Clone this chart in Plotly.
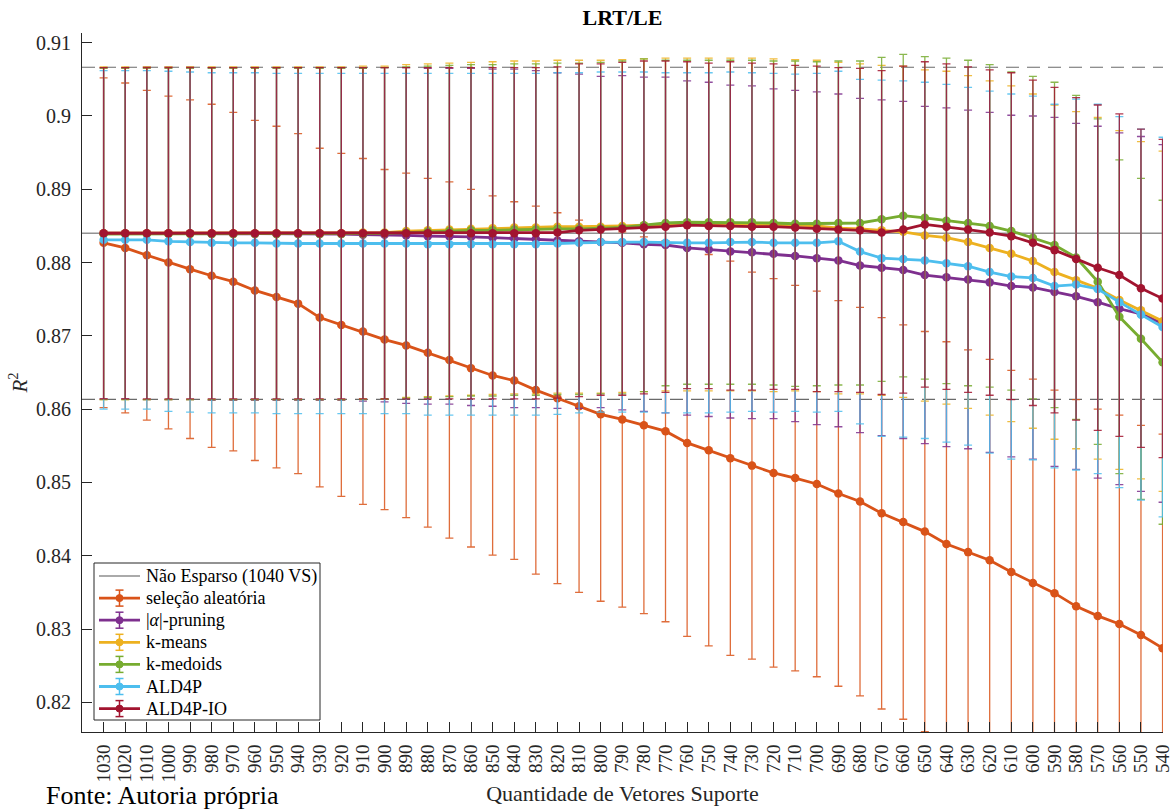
import plotly.graph_objects as go

# ---------------- data ----------------
vs = list(range(1030, 530, -10))  # Quantidade de Vetores Suporte

nonsparse_mean = 0.8840
nonsparse_std = 0.02265
nonsparse_name = "Não Esparso (1040 VS)"

random_mean = [0.8827, 0.8820, 0.8810, 0.8800, 0.8791, 0.8782, 0.8774, 0.8762, 0.8753, 0.8744,
               0.8725, 0.8715, 0.8706, 0.8695, 0.8687, 0.8677, 0.8667, 0.8656, 0.8646, 0.8639,
               0.8626, 0.8615, 0.8604, 0.8593, 0.8586, 0.8578, 0.8570, 0.8554, 0.8544, 0.8533,
               0.8523, 0.8513, 0.8506, 0.8498, 0.8485, 0.8474, 0.8458, 0.8446, 0.8433, 0.8416,
               0.8405, 0.8394, 0.8378, 0.8363, 0.8349, 0.8331, 0.8318, 0.8307, 0.8292, 0.8274]
random_std = [0.0225, 0.0225, 0.0225, 0.0227, 0.0231, 0.0234, 0.0231, 0.0232, 0.0233, 0.0232,
              0.0231, 0.0234, 0.0236, 0.0232, 0.0235, 0.0238, 0.0243, 0.0244, 0.0245, 0.0244,
              0.0251, 0.0253, 0.0254, 0.0255, 0.0256, 0.0257, 0.0260, 0.0264, 0.0267, 0.0269,
              0.0264, 0.0265, 0.0263, 0.0263, 0.0263, 0.0265, 0.0267, 0.0269, 0.0273, 0.0276,
              0.0276, 0.0274, 0.0275, 0.0278, 0.0277, 0.0282, 0.0282, 0.0285, 0.0286, 0.0292]

pruning_mean = [0.8840, 0.8840, 0.8840, 0.8840, 0.8840, 0.8839, 0.8839, 0.8839, 0.8839, 0.8839,
                0.8839, 0.8839, 0.8838, 0.8838, 0.8837, 0.8836, 0.8836, 0.8835, 0.8834, 0.8833,
                0.8832, 0.8830, 0.8829, 0.8828, 0.8827, 0.8825, 0.8824, 0.8820, 0.8818, 0.8815,
                0.8814, 0.8812, 0.8809, 0.8806, 0.8803, 0.8796, 0.8793, 0.8790, 0.8783, 0.8780,
                0.8777, 0.8773, 0.8768, 0.8766, 0.8760, 0.8754, 0.8746, 0.8737, 0.8730, 0.8717]
pruning_std = [0.0226, 0.0226, 0.0227, 0.0227, 0.0227, 0.0227, 0.0227, 0.0227, 0.0227, 0.0227,
               0.0227, 0.0227, 0.0227, 0.0228, 0.0229, 0.0229, 0.0229, 0.0230, 0.0230, 0.0231,
               0.0230, 0.0229, 0.0228, 0.0226, 0.0228, 0.0228, 0.0229, 0.0228, 0.0228, 0.0227,
               0.0227, 0.0225, 0.0226, 0.0227, 0.0227, 0.0228, 0.0229, 0.0230, 0.0230, 0.0231,
               0.0231, 0.0232, 0.0233, 0.0234, 0.0238, 0.0236, 0.0240, 0.0240, 0.0242, 0.0244]

kmeans_mean = [0.8840, 0.8840, 0.8840, 0.8840, 0.8840, 0.8840, 0.8840, 0.8840, 0.8840, 0.8840,
               0.8840, 0.8840, 0.8841, 0.8841, 0.8843, 0.8844, 0.8845, 0.8846, 0.8847, 0.8848,
               0.8848, 0.8849, 0.8849, 0.8849, 0.8850, 0.8851, 0.8852, 0.8852, 0.8852, 0.8852,
               0.8852, 0.8851, 0.8851, 0.8850, 0.8847, 0.8846, 0.8844, 0.8842, 0.8837, 0.8834,
               0.8828, 0.8820, 0.8812, 0.8802, 0.8787, 0.8776, 0.8765, 0.8749, 0.8735, 0.8720]
kmeans_std = [0.0227, 0.0227, 0.0227, 0.0227, 0.0227, 0.0227, 0.0227, 0.0227, 0.0227, 0.0227,
              0.0227, 0.0227, 0.0227, 0.0227, 0.0227, 0.0227, 0.0227, 0.0227, 0.0227, 0.0227,
              0.0227, 0.0227, 0.0227, 0.0227, 0.0227, 0.0227, 0.0227, 0.0227, 0.0227, 0.0227,
              0.0227, 0.0227, 0.0226, 0.0226, 0.0226, 0.0225, 0.0225, 0.0226, 0.0226, 0.0227,
              0.0227, 0.0228, 0.0229, 0.0228, 0.0228, 0.0230, 0.0233, 0.0231, 0.0230, 0.0232]

kmedoids_mean = [0.8839, 0.8839, 0.8839, 0.8839, 0.8839, 0.8839, 0.8839, 0.8839, 0.8839, 0.8839,
                 0.8839, 0.8839, 0.8839, 0.8840, 0.8841, 0.8842, 0.8843, 0.8844, 0.8844, 0.8845,
                 0.8845, 0.8846, 0.8846, 0.8847, 0.8848, 0.8851, 0.8854, 0.8855, 0.8855, 0.8855,
                 0.8855, 0.8854, 0.8853, 0.8853, 0.8854, 0.8854, 0.8859, 0.8864, 0.8861, 0.8857,
                 0.8854, 0.8850, 0.8843, 0.8834, 0.8824, 0.8807, 0.8774, 0.8726, 0.8696, 0.8664]
kmedoids_std = [0.0226, 0.0226, 0.0226, 0.0226, 0.0226, 0.0226, 0.0226, 0.0226, 0.0226, 0.0226,
                0.0226, 0.0226, 0.0226, 0.0226, 0.0226, 0.0226, 0.0226, 0.0226, 0.0226, 0.0226,
                0.0226, 0.0226, 0.0226, 0.0226, 0.0227, 0.0227, 0.0222, 0.0221, 0.0221, 0.0221,
                0.0221, 0.0221, 0.0222, 0.0221, 0.0221, 0.0221, 0.0221, 0.0220, 0.0220, 0.0222,
                0.0222, 0.0220, 0.0217, 0.0220, 0.0222, 0.0221, 0.0222, 0.0214, 0.0219, 0.0221]

ald4p_mean = [0.8831, 0.8831, 0.8831, 0.8829, 0.8828, 0.8827, 0.8827, 0.8827, 0.8826, 0.8826,
              0.8826, 0.8826, 0.8826, 0.8826, 0.8826, 0.8825, 0.8825, 0.8825, 0.8825, 0.8825,
              0.8825, 0.8826, 0.8827, 0.8828, 0.8828, 0.8828, 0.8827, 0.8827, 0.8827, 0.8828,
              0.8828, 0.8827, 0.8827, 0.8827, 0.8829, 0.8815, 0.8806, 0.8805, 0.8803, 0.8799,
              0.8795, 0.8787, 0.8781, 0.8779, 0.8768, 0.8770, 0.8764, 0.8746, 0.8729, 0.8712]
ald4p_std = [0.0231, 0.0231, 0.0231, 0.0232, 0.0232, 0.0232, 0.0232, 0.0232, 0.0232, 0.0232,
             0.0232, 0.0232, 0.0232, 0.0232, 0.0232, 0.0233, 0.0233, 0.0233, 0.0233, 0.0233,
             0.0233, 0.0233, 0.0232, 0.0232, 0.0232, 0.0232, 0.0232, 0.0232, 0.0232, 0.0232,
             0.0231, 0.0231, 0.0230, 0.0231, 0.0232, 0.0235, 0.0243, 0.0243, 0.0243, 0.0244,
             0.0244, 0.0247, 0.0249, 0.0248, 0.0248, 0.0253, 0.0252, 0.0253, 0.0253, 0.0259]

ald4pio_mean = [0.8840, 0.8840, 0.8840, 0.8840, 0.8840, 0.8840, 0.8840, 0.8840, 0.8840, 0.8840,
                0.8840, 0.8840, 0.8840, 0.8840, 0.8840, 0.8840, 0.8840, 0.8840, 0.8840, 0.8840,
                0.8840, 0.8841, 0.8844, 0.8845, 0.8846, 0.8848, 0.8849, 0.8851, 0.8850, 0.8850,
                0.8849, 0.8849, 0.8848, 0.8846, 0.8845, 0.8844, 0.8841, 0.8845, 0.8852, 0.8849,
                0.8845, 0.8841, 0.8836, 0.8827, 0.8817, 0.8805, 0.8793, 0.8783, 0.8765, 0.8751]
ald4pio_std = [0.0226, 0.0226, 0.0226, 0.0226, 0.0226, 0.0226, 0.0226, 0.0226, 0.0226, 0.0226,
               0.0226, 0.0226, 0.0226, 0.0226, 0.0226, 0.0226, 0.0226, 0.0226, 0.0226, 0.0226,
               0.0226, 0.0226, 0.0227, 0.0226, 0.0227, 0.0227, 0.0226, 0.0223, 0.0222, 0.0224,
               0.0223, 0.0222, 0.0221, 0.0222, 0.0221, 0.0221, 0.0221, 0.0223, 0.0222, 0.0222,
               0.0222, 0.0222, 0.0223, 0.0222, 0.0222, 0.0220, 0.0222, 0.0220, 0.0217, 0.0217]

series_names = ["seleção aleatória", "|<i>α</i>|-pruning", "k-means", "k-medoids", "ALD4P", "ALD4P-IO"]
series_colors = ["#D95319", "#7E2F8E", "#EDB120", "#77AC30", "#4DBEEE", "#A2142F"]
series_err_colors = ["rgba(217,83,25,0.85)", "rgba(126,47,142,0.85)", "rgba(237,177,32,0.85)",
                     "rgba(119,172,48,0.85)", "rgba(77,190,238,0.85)", "rgba(162,20,47,0.85)"]
series_means = [random_mean, pruning_mean, kmeans_mean, kmedoids_mean, ald4p_mean, ald4pio_mean]
series_stds = [random_std, pruning_std, kmeans_std, kmedoids_std, ald4p_std, ald4pio_std]

yticks = [0.82, 0.83, 0.84, 0.85, 0.86, 0.87, 0.88, 0.89, 0.90, 0.91]
ytick_text = ["0.82", "0.83", "0.84", "0.85", "0.86", "0.87", "0.88", "0.89", "0.9", "0.91"]

# ---------------- figure ----------------
FONT = "Liberation Serif, Times New Roman, serif"
W, H = 1173, 810
ML, MR, MT, MB = 82, 10, 33, 78
PW, PH = W - ML - MR, H - MT - MB

def px(xpix):  # pixel -> paper x
    return (xpix - ML) / PW

def py(ypix):  # pixel -> paper y
    return (H - MB - ypix) / PH

fig = go.Figure()

x_ext = [vs[0] + 10, vs[-1] - 0.2]
fig.add_trace(go.Scatter(x=x_ext, y=[nonsparse_mean] * 2, mode="lines",
                         line=dict(color="rgba(110,110,110,0.75)", width=1.5),
                         name=nonsparse_name, showlegend=False))
for sgn in (1, -1):
    fig.add_trace(go.Scatter(x=x_ext, y=[nonsparse_mean + sgn * nonsparse_std] * 2, mode="lines",
                             line=dict(color="rgba(90,90,90,0.9)", width=1.2, dash="13px,8px"),
                             showlegend=False, hoverinfo="skip"))

for name, col, ecol, m, s in zip(series_names, series_colors, series_err_colors, series_means, series_stds):
    fig.add_trace(go.Scatter(
        x=vs, y=m, name=name, mode="lines+markers", showlegend=False,
        line=dict(color=col, width=2.8),
        marker=dict(color=col, size=8.5, symbol="circle"),
        error_y=dict(type="data", array=s, visible=True, color=ecol, thickness=1.3, width=4),
    ))

# ---------------- legend (drawn manually to match entry spacing) ----------------
shapes = []
annotations = []
box_l, box_r, box_t, box_b = 94, 320, 563, 720
shapes.append(dict(type="rect", xref="paper", yref="paper", layer="above",
                   x0=px(box_l), x1=px(box_r), y0=py(box_b), y1=py(box_t),
                   line=dict(color="#262626", width=1), fillcolor="white"))
row0, row_step = 576, 22.1
samp_l, samp_r, samp_c, text_x = 99, 140, 119.5, 144

leg_names = [nonsparse_name] + series_names
leg_colors = ["rgba(130,130,130,0.9)"] + series_colors
for k, (nm, col) in enumerate(zip(leg_names, leg_colors)):
    yc = row0 + k * row_step
    shapes.append(dict(type="line", xref="paper", yref="paper", layer="above",
                       x0=px(samp_l), x1=px(samp_r), y0=py(yc), y1=py(yc),
                       line=dict(color=col, width=1.5 if k == 0 else 2.8)))
    if k > 0:
        # error bar glyph
        shapes.append(dict(type="line", xref="paper", yref="paper", layer="above",
                           x0=px(samp_c), x1=px(samp_c), y0=py(yc - 8), y1=py(yc + 8),
                           line=dict(color=col, width=1.5)))
        for dy in (-8, 8):
            shapes.append(dict(type="line", xref="paper", yref="paper", layer="above",
                               x0=px(samp_c - 4), x1=px(samp_c + 4), y0=py(yc + dy), y1=py(yc + dy),
                               line=dict(color=col, width=1.5)))
        shapes.append(dict(type="circle", xref="paper", yref="paper", layer="above",
                           x0=px(samp_c - 3.5), x1=px(samp_c + 3.5), y0=py(yc + 3.5), y1=py(yc - 3.5),
                           line=dict(color=col, width=1), fillcolor=col))
    annotations.append(dict(text=nm, xref="paper", yref="paper", x=px(text_x), y=py(yc),
                            xanchor="left", yanchor="middle", showarrow=False,
                            font=dict(family=FONT, size=18, color="black")))

annotations.append(dict(text="Fonte: Autoria própria", xref="paper", yref="paper",
                        x=px(44), y=py(H + 2), xanchor="left", yanchor="bottom",
                        showarrow=False, font=dict(family=FONT, size=26, color="black")))

fig.update_layout(
    width=W, height=H,
    margin=dict(l=ML, r=MR, t=MT, b=MB),
    paper_bgcolor="white", plot_bgcolor="white",
    font=dict(family=FONT, color="#262626", size=19),
    title=dict(text="<b>LRT/LE</b>", x=(ML + W - MR) / 2 / W, xanchor="center",
               y=1 - 17 / H, yanchor="middle", font=dict(family=FONT, size=22, color="black")),
    showlegend=False,
    shapes=shapes,
    annotations=annotations,
    xaxis=dict(range=[vs[0] + 10, vs[-1] - 0.2], tickmode="array", tickvals=vs,
               ticktext=[str(v) for v in vs], tickangle=-90, automargin=False,
               ticks="inside", ticklen=10, tickwidth=1, tickcolor="#262626",
               showline=True, linecolor="#262626", linewidth=1, mirror=False,
               showgrid=False, zeroline=False,
               tickfont=dict(family=FONT, size=19, color="#262626"),
               ticklabelstandoff=4,
               title=dict(text="Quantidade de Vetores Suporte", standoff=4,
                          font=dict(family=FONT, size=22, color="#262626"))),
    yaxis=dict(range=[0.81596, 0.91132], tickmode="array", tickvals=yticks, ticktext=ytick_text,
               automargin=False,
               ticks="inside", ticklen=10, tickwidth=1, tickcolor="#262626",
               showline=True, linecolor="#262626", linewidth=1, mirror=False,
               showgrid=False, zeroline=False,
               tickfont=dict(family=FONT, size=20, color="#262626"),
               ticklabelstandoff=6,
               title=dict(text="<i>R</i><sup>2</sup>", standoff=2,
                          font=dict(family=FONT, size=21, color="#262626"))),
)

fig.write_html("out.html")
